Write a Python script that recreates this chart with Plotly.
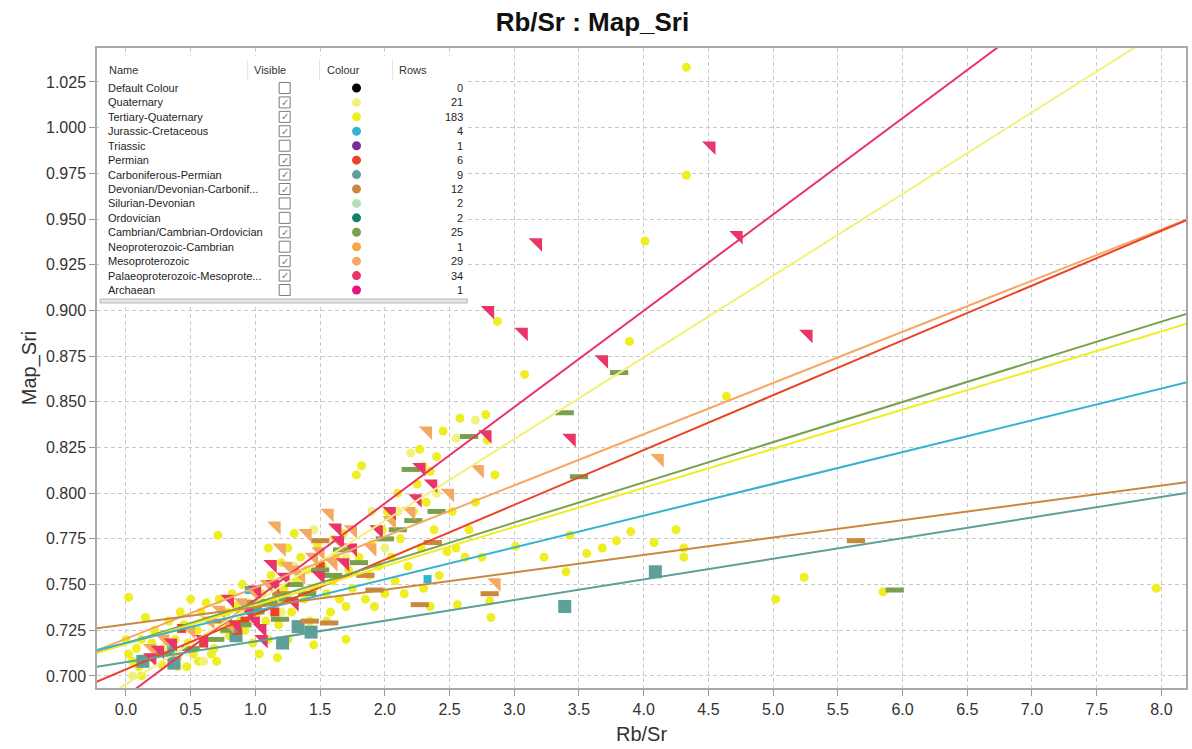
import plotly.graph_objects as go

# ---------------- data ----------------
tert_quat = [
    (0.02, 0.743), (0.00, 0.720), (0.02, 0.712), (0.05, 0.708), (0.08, 0.715), (0.10, 0.705),
    (0.12, 0.720), (0.15, 0.732), (0.18, 0.710), (0.20, 0.718), (0.22, 0.725), (0.25, 0.712),
    (0.28, 0.706), (0.30, 0.722), (0.12, 0.700), (0.33, 0.730), (0.35, 0.715), (0.38, 0.720),
    (0.40, 0.710), (0.42, 0.735), (0.45, 0.728), (0.48, 0.718), (0.50, 0.742), (0.52, 0.712),
    (0.55, 0.725), (0.58, 0.735), (0.60, 0.720), (0.47, 0.705), (0.56, 0.708), (0.62, 0.740),
    (0.65, 0.730), (0.68, 0.715), (0.71, 0.777), (0.72, 0.742), (0.75, 0.728), (0.78, 0.735),
    (0.80, 0.722), (0.82, 0.745), (0.85, 0.738), (0.88, 0.730), (0.90, 0.750), (0.92, 0.725),
    (0.95, 0.740), (0.98, 0.718), (0.66, 0.712), (0.70, 0.708), (1.02, 0.735), (1.05, 0.745),
    (1.08, 0.730), (1.10, 0.770), (1.12, 0.755), (1.15, 0.740), (1.18, 0.728), (1.20, 0.762),
    (1.22, 0.748), (1.25, 0.770), (1.28, 0.735), (1.30, 0.778), (1.32, 0.752), (1.35, 0.765),
    (1.38, 0.742), (1.40, 0.758), (1.42, 0.730), (1.45, 0.748), (1.48, 0.772), (1.10, 0.720),
    (1.25, 0.720), (1.35, 0.725), (1.03, 0.712), (1.17, 0.710), (1.45, 0.717), (1.52, 0.760),
    (1.55, 0.745), (1.58, 0.735), (1.60, 0.752), (1.62, 0.765), (1.65, 0.742), (1.68, 0.778),
    (1.70, 0.738), (1.72, 0.758), (1.75, 0.748), (1.78, 0.810), (1.82, 0.815), (1.80, 0.765),
    (1.85, 0.742), (1.88, 0.755), (1.90, 0.772), (1.92, 0.738), (1.95, 0.760), (1.98, 0.780),
    (1.55, 0.730), (1.70, 0.720), (2.00, 0.745), (2.02, 0.790), (2.05, 0.765), (2.08, 0.752),
    (2.10, 0.800), (2.12, 0.775), (2.15, 0.745), (2.18, 0.760), (2.22, 0.790), (2.25, 0.805),
    (2.28, 0.770), (2.30, 0.748), (2.32, 0.795), (2.35, 0.812), (2.38, 0.780), (2.40, 0.820),
    (2.42, 0.755), (2.45, 0.834), (2.48, 0.768), (2.27, 0.824), (2.35, 0.738), (2.52, 0.790),
    (2.55, 0.770), (2.56, 0.739), (2.58, 0.841), (2.62, 0.765), (2.65, 0.780), (2.70, 0.795),
    (2.75, 0.765), (2.78, 0.843), (2.79, 0.829), (2.81, 0.741), (2.82, 0.732), (2.87, 0.894),
    (2.85, 0.810), (3.01, 0.771), (3.08, 0.865), (3.23, 0.765), (3.40, 0.757), (3.43, 0.777),
    (3.56, 0.767), (3.68, 0.770), (3.79, 0.774), (3.89, 0.883), (3.90, 0.779), (4.01, 0.938),
    (4.08, 0.773), (4.25, 0.780), (4.31, 0.770), (4.31, 0.765), (4.33, 1.033), (4.33, 0.974),
    (4.64, 0.853), (5.02, 0.742), (5.24, 0.754), (5.85, 0.746), (7.96, 0.748),
]
quaternary = [
    (0.05, 0.700), (0.30, 0.716), (0.60, 0.708), (0.90, 0.735), (1.30, 0.760), (1.60, 0.775),
    (2.00, 0.770), (2.30, 0.815), (2.20, 0.822), (2.55, 0.830), (2.40, 0.800), (1.45, 0.780),
    (1.10, 0.740), (0.75, 0.725), (0.40, 0.705), (1.90, 0.790), (2.70, 0.840), (1.20, 0.735),
    (0.50, 0.716), (1.70, 0.765), (2.10, 0.790),
]
palaeo_meso = [
    (5.27, 0.887), (4.73, 0.941), (4.52, 0.990), (3.18, 0.937), (3.07, 0.888), (3.69, 0.873),
    (3.44, 0.830), (2.81, 0.900), (2.79, 0.832), (2.28, 0.814), (2.37, 0.805), (2.25, 0.797),
    (1.63, 0.781), (1.65, 0.774), (1.69, 0.762), (1.13, 0.761), (1.23, 0.754), (1.01, 0.747),
    (1.05, 0.726), (1.06, 0.720), (0.80, 0.742), (0.36, 0.718), (0.26, 0.714), (1.00, 0.730),
    (0.85, 0.728), (1.50, 0.755), (0.95, 0.735), (1.15, 0.750), (0.60, 0.720), (1.95, 0.780),
    (0.20, 0.710), (1.30, 0.740), (2.05, 0.790), (1.75, 0.770),
]
mesoproterozoic = [
    (4.12, 0.819), (2.86, 0.751), (2.73, 0.813), (2.33, 0.834), (1.16, 0.782), (1.57, 0.789),
    (1.40, 0.778), (1.30, 0.758), (1.35, 0.755), (0.73, 0.736), (1.45, 0.765), (1.90, 0.770),
    (2.05, 0.785), (0.90, 0.740), (1.00, 0.745), (1.10, 0.750), (0.50, 0.725), (0.65, 0.730),
    (0.30, 0.720), (1.60, 0.762), (1.75, 0.780), (2.20, 0.790), (1.25, 0.760), (0.20, 0.715),
    (0.80, 0.728), (1.50, 0.768), (2.50, 0.800), (1.20, 0.770), (1.65, 0.773),
]
cambrian = [
    (3.81, 0.866), (3.39, 0.844), (3.50, 0.809), (2.65, 0.831), (2.20, 0.813), (2.22, 0.785),
    (1.67, 0.769), (5.94, 0.747), (0.69, 0.720), (1.19, 0.731), (1.60, 0.755), (1.00, 0.735),
    (0.50, 0.715), (2.00, 0.775), (1.40, 0.745), (0.90, 0.728), (2.40, 0.790), (1.80, 0.762),
    (0.30, 0.712), (1.10, 0.740), (1.50, 0.758), (0.80, 0.725), (2.10, 0.780), (1.30, 0.750),
    (1.25, 0.742),
]
devonian = [
    (5.64, 0.774), (2.81, 0.745), (2.27, 0.739), (2.37, 0.773), (1.92, 0.747), (1.50, 0.774),
    (1.57, 0.729), (1.42, 0.730), (1.00, 0.740), (0.75, 0.730), (1.20, 0.745), (1.85, 0.755),
]
carbon_perm = [
    (4.09, 0.757), (3.39, 0.738), (1.21, 0.718), (1.33, 0.727), (1.43, 0.724), (0.37, 0.707),
    (0.13, 0.708), (0.85, 0.722), (1.00, 0.738),
]
jurassic = [(2.33, 0.753), (0.95, 0.747), (1.05, 0.740), (0.35, 0.715)]
permian = [(0.43, 0.726), (0.86, 0.725), (0.92, 0.730), (1.15, 0.735), (1.50, 0.760), (0.60, 0.718)]

# regression lines: intercept and slope per category
fit_names = ["Palaeoproterozoic-Mesoproterozoic", "Quaternary", "Mesoproterozoic", "Permian",
             "Cambrian/Cambrian-Ordovician", "Tertiary-Quaternary", "Jurassic-Cretaceous",
             "Devonian/Devonian-Carboniferous", "Carboniferous-Permian"]
fit_intercept = [0.6890, 0.6955, 0.7203, 0.7036, 0.7179, 0.7173, 0.7181, 0.7282, 0.7076]
fit_slope = [0.0527, 0.0447, 0.0280, 0.0300, 0.0220, 0.0214, 0.0174, 0.0095, 0.0113]

# legend table
table_names = ["Default Colour", "Quaternary", "Tertiary-Quaternary", "Jurassic-Cretaceous",
               "Triassic", "Permian", "Carboniferous-Permian", "Devonian/Devonian-Carbonif...",
               "Silurian-Devonian", "Ordovician", "Cambrian/Cambrian-Ordovician",
               "Neoproterozoic-Cambrian", "Mesoproterozoic", "Palaeoproterozoic-Mesoprote...",
               "Archaean"]
table_visible = [False, True, True, True, False, True, True, True, False, False, True, False,
                 True, True, False]
table_rows = [0, 21, 183, 4, 1, 6, 9, 12, 2, 2, 25, 1, 29, 34, 1]

x_ticks = [0.0, 0.5, 1.0, 1.5, 2.0, 2.5, 3.0, 3.5, 4.0, 4.5, 5.0, 5.5, 6.0, 6.5, 7.0, 7.5, 8.0]
y_ticks = [0.700, 0.725, 0.750, 0.775, 0.800, 0.825, 0.850, 0.875, 0.900, 0.925, 0.950,
           0.975, 1.000, 1.025]

# ---------------- styles ----------------
colours = {
    "Default Colour": "#000000",
    "Quaternary": "#f3f07c",
    "Tertiary-Quaternary": "#eeee22",
    "Jurassic-Cretaceous": "#35b2d0",
    "Triassic": "#7a2d8f",
    "Permian": "#ea4326",
    "Carboniferous-Permian": "#5f9f99",
    "Devonian/Devonian-Carboniferous": "#c98840",
    "Silurian-Devonian": "#b4e0b6",
    "Ordovician": "#147f6b",
    "Cambrian/Cambrian-Ordovician": "#79a04e",
    "Neoproterozoic-Cambrian": "#f6a840",
    "Mesoproterozoic": "#f4a862",
    "Palaeoproterozoic-Mesoproterozoic": "#e93568",
    "Archaean": "#e6147e",
}
table_colour_keys = ["Default Colour", "Quaternary", "Tertiary-Quaternary", "Jurassic-Cretaceous",
                     "Triassic", "Permian", "Carboniferous-Permian",
                     "Devonian/Devonian-Carboniferous", "Silurian-Devonian", "Ordovician",
                     "Cambrian/Cambrian-Ordovician", "Neoproterozoic-Cambrian", "Mesoproterozoic",
                     "Palaeoproterozoic-Mesoproterozoic", "Archaean"]

fig = go.Figure()


def xs(pts):
    return [p[0] for p in pts]


def ys(pts):
    return [p[1] for p in pts]


def marker_series(name, pts, col, symbol, size, lw=0):
    m = dict(symbol=symbol, size=size, color=col, line=dict(width=lw, color=col))
    fig.add_trace(go.Scatter(x=xs(pts), y=ys(pts), mode="markers", name=name, marker=m,
                             showlegend=False))


marker_series("Tertiary-Quaternary", tert_quat, colours["Tertiary-Quaternary"], "circle", 9)
marker_series("Quaternary", quaternary, colours["Quaternary"], "circle", 9)
marker_series("Carboniferous-Permian", carbon_perm, colours["Carboniferous-Permian"], "square", 13)
marker_series("Jurassic-Cretaceous", jurassic, colours["Jurassic-Cretaceous"], "square", 8)
marker_series("Permian", permian, colours["Permian"], "square", 9)
marker_series("Devonian/Devonian-Carboniferous", devonian,
              colours["Devonian/Devonian-Carboniferous"], "line-ew", 13, 5)
marker_series("Cambrian/Cambrian-Ordovician", cambrian, colours["Cambrian/Cambrian-Ordovician"],
              "line-ew", 13, 5)
marker_series("Mesoproterozoic", mesoproterozoic, colours["Mesoproterozoic"], "triangle-ne", 15)
marker_series("Palaeoproterozoic-Mesoproterozoic", palaeo_meso,
              colours["Palaeoproterozoic-Mesoproterozoic"], "triangle-ne", 15)

line_x = [-0.3, 8.3]
for nm, b, m in zip(fit_names, fit_intercept, fit_slope):
    fig.add_trace(go.Scatter(x=line_x, y=[b + m * v for v in line_x], mode="lines", name=nm + " fit",
                             line=dict(color=colours[nm], width=2), showlegend=False,
                             hoverinfo="skip"))

# ---------------- layout ----------------
L, T, W, H = 97, 48, 1091, 640


def pxx(p):
    return (p - L) / W


def pxy(p):
    return (T + H - p) / H


shapes = []
annos = []
shapes.append(dict(type="rect", xref="paper", yref="paper", x0=pxx(99), x1=pxx(468), y0=pxy(304),
                   y1=pxy(56), fillcolor="white", line=dict(width=0), layer="above"))
for sx in [248, 320, 393]:
    shapes.append(dict(type="line", xref="paper", yref="paper", x0=pxx(sx), x1=pxx(sx), y0=pxy(80),
                       y1=pxy(60), line=dict(color="#e2e2e2", width=1), layer="above"))
shapes.append(dict(type="rect", xref="paper", yref="paper", x0=pxx(100), x1=pxx(468), y0=pxy(303),
                   y1=pxy(299), fillcolor="#e4e4e4", line=dict(color="#b8b8b8", width=1),
                   layer="above"))
hdr_font = dict(family="Liberation Sans", size=11, color="#333333")
for txt, hx in [("Name", 107), ("Visible", 252), ("Colour", 325), ("Rows", 398)]:
    annos.append(dict(text=txt, xref="paper", yref="paper", x=pxx(hx), y=pxy(70), xanchor="left",
                      yanchor="middle", showarrow=False, font=hdr_font))
row_font = dict(family="Liberation Sans", size=11, color="#1e1e1e")
for i, (nm, vis, ck, nr) in enumerate(zip(table_names, table_visible, table_colour_keys, table_rows)):
    yy = 88 + i * 14.43
    annos.append(dict(text=nm, xref="paper", yref="paper", x=pxx(106), y=pxy(yy), xanchor="left",
                      yanchor="middle", showarrow=False, font=row_font))
    annos.append(dict(text=str(nr), xref="paper", yref="paper", x=pxx(466), y=pxy(yy),
                      xanchor="right", yanchor="middle", showarrow=False, font=row_font))
    shapes.append(dict(type="rect", xref="paper", yref="paper", x0=pxx(279.5), x1=pxx(290.5),
                       y0=pxy(yy + 5.5), y1=pxy(yy - 5.5), fillcolor="white",
                       line=dict(color="#7a7a7a", width=1), layer="above"))
    if vis:
        annos.append(dict(text="\u2713", xref="paper", yref="paper", x=pxx(285), y=pxy(yy),
                          xanchor="center", yanchor="middle", showarrow=False,
                          font=dict(family="DejaVu Sans", size=10, color="#777777")))
    shapes.append(dict(type="circle", xref="paper", yref="paper", x0=pxx(352.5), x1=pxx(361.5),
                       y0=pxy(yy + 4.5), y1=pxy(yy - 4.5), fillcolor=colours[ck],
                       line=dict(width=0), layer="above"))

axis_common = dict(showline=True, mirror=True, linecolor="#a8a8a8", linewidth=1.5,
                   showgrid=True, gridcolor="#c9c9c9", gridwidth=1, griddash="4px,3px",
                   zeroline=False, ticks="outside", ticklen=6, tickcolor="#999999",
                   tickfont=dict(family="Liberation Sans", size=16, color="#333333"))

fig.update_layout(
    width=1192, height=749,
    margin=dict(l=L, r=1192 - L - W, t=T, b=749 - T - H),
    paper_bgcolor="white", plot_bgcolor="white",
    title=dict(text="<b>Rb/Sr : Map_Sri</b>", x=0.497, xanchor="center", y=1 - 22 / 749,
               yanchor="middle", font=dict(family="Liberation Sans", size=26, color="#111111")),
    xaxis=dict(range=[-0.224, 8.19], tickvals=x_ticks, tickformat=".1f",
               title=dict(text="Rb/Sr", standoff=10,
                          font=dict(family="Liberation Sans", size=20, color="#333333")),
               **axis_common),
    yaxis=dict(range=[0.6934, 1.0436], tickvals=y_ticks, tickformat=".3f",
               title=dict(text="Map_Sri", standoff=4,
                          font=dict(family="Liberation Sans", size=20, color="#333333")),
               **axis_common),
    shapes=shapes, annotations=annos, showlegend=False,
)

fig.write_html("out.html", config={"displayModeBar": False},
               post_script="document.body.style.margin='0';document.body.style.overflow='hidden';")
